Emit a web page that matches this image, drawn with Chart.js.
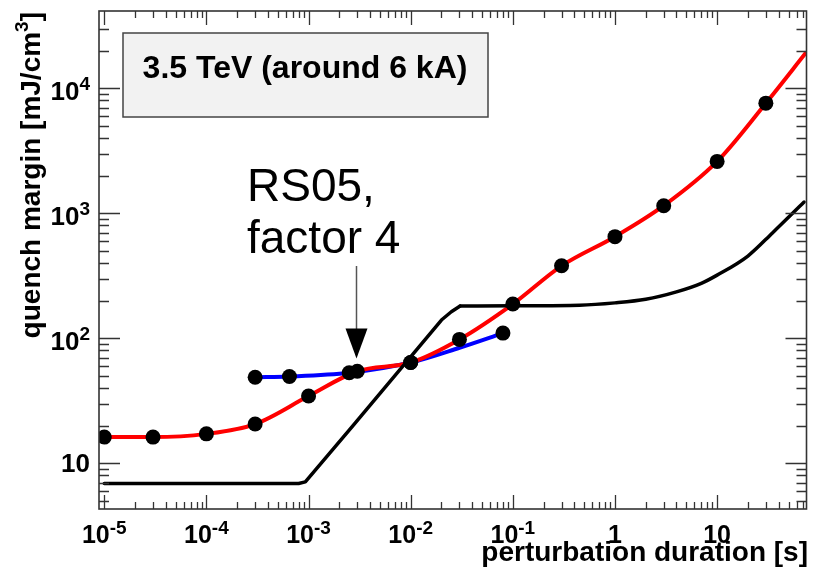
<!DOCTYPE html>
<html>
<head>
<meta charset="utf-8">
<script src="https://cdn.jsdelivr.net/npm/chart.js@4.4.1/dist/chart.umd.min.js"></script>
<style>
  html, body { margin: 0; padding: 0; background: #fff; }
</style>
</head>
<body>
<canvas id="myChart" width="814" height="572"></canvas>
<script>
/*========== DATA ==========*/
// red curve (the last point only carries the line to the frame)
const redX = [1e-5, 3e-5, 1e-4, 3e-4, 1e-3, 3e-3, 1e-2, 3e-2, 0.1, 0.3, 1, 3, 10, 30, 75];
const redY = [16.2, 16.2, 17.2, 20.6, 34.5, 54.5, 64, 98, 188, 380, 650, 1150, 2600, 7600, 19500];
const redMarker = [1, 1, 1, 1, 1, 1, 1, 1, 1, 1, 1, 1, 1, 1, 0];

// blue curve
const blueX = [3e-4, 6.5e-4, 2.5e-3, 1e-2, 3e-2, 8e-2];
const blueY = [48.8, 49.5, 53, 64, 84, 110];
const blueMarker = [1, 1, 1, 1, 0, 1];

// black curve (no markers): straight pieces up to the knee, smooth after it
const blackX = [1e-5, 8e-4, 9.3e-4, 2.66e-3, 2e-2, 2.5e-2, 3.05e-2, 0.1, 0.45, 1, 2, 4, 7, 10, 20, 35, 71];
const blackY = [6.9, 6.9, 7.1, 19.6, 140, 163, 181, 182, 184, 192, 205, 235, 275, 320, 455, 700, 1230];
const blackKnee = 6;

// axes
const xMin = 8.88e-6, xMax = 75;
const yMin = 4.31, yMax = 41500;
const xTickValues = [1e-5, 1e-4, 1e-3, 1e-2, 1e-1, 1, 10];
const xTickLabels = ['10^-5', '10^-4', '10^-3', '10^-2', '10^-1', '1', '10'];
const yTickValues = [10, 100, 1000, 10000];
const yTickLabels = ['10', '10^2', '10^3', '10^4'];

const xTitle = 'perturbation duration [s]';
const yTitle = ['quench margin [mJ/cm', '3', ']'];
const boxText = '3.5 TeV (around 6 kA)';
const noteLines = ['RS05,', 'factor 4'];
const arrowX = 2.9e-3;   // arrow points here
const arrowTipY = 69;

const FONT = '"Liberation Sans", Arial, Helvetica, sans-serif';

function toPoints(xs, ys) {
  return xs.map((x, i) => ({ x: x, y: ys[i] }));
}
function markerPoints(xs, ys, flags) {
  return toPoints(xs, ys).filter((p, i) => flags[i]);
}

// 10^n label: base + superscript
function drawPowerLabel(c, label, x, y, o) {
  const parts = label.split('^');
  c.font = 'bold ' + o.base + 'px ' + FONT;
  const wb = c.measureText(parts[0]).width;
  let ws = 0;
  if (parts[1]) {
    c.font = 'bold ' + o.sup + 'px ' + FONT;
    ws = c.measureText(parts[1]).width;
  }
  const total = wb + ws;
  let left = o.align === 'right' ? x - total : x - total / 2;
  c.textAlign = 'left';
  c.textBaseline = 'alphabetic';
  const by = parts[1] ? y + o.powDy : y + o.plainDy;
  c.font = 'bold ' + o.base + 'px ' + FONT;
  c.fillText(parts[0], left, by);
  if (parts[1]) {
    c.font = 'bold ' + o.sup + 'px ' + FONT;
    c.fillText(parts[1], left + wb, by - o.rise);
  }
}

function logTicks(min, max) {
  const out = [];
  for (let e = Math.floor(Math.log10(min)); e <= Math.ceil(Math.log10(max)); e++) {
    for (let m = 1; m < 10; m++) {
      const v = m * Math.pow(10, e);
      if (v >= min && v <= max) out.push({ v: v, major: m === 1 });
    }
  }
  return out;
}

/*========== FRAME, TICKS, TEXT ==========*/
const rootStyle = {
  id: 'rootStyle',
  afterDraw(chart) {
    const c = chart.ctx;
    const a = chart.chartArea;
    const sx = chart.scales.x, sy = chart.scales.y;
    c.save();

    // ticks, pointing inward on all four sides
    c.strokeStyle = '#333';
    c.lineWidth = 1.3;
    c.beginPath();
    logTicks(xMin, xMax).forEach(t => {
      const px = Math.round(sx.getPixelForValue(t.v)) + 0.5;
      if (px - a.left < 3 || a.right - px < 3) return;
      const len = t.major ? 14 : 7;
      c.moveTo(px, a.bottom); c.lineTo(px, a.bottom - len);
      c.moveTo(px, a.top); c.lineTo(px, a.top + len);
    });
    logTicks(yMin, yMax).forEach(t => {
      const py = Math.round(sy.getPixelForValue(t.v)) + 0.5;
      if (py - a.top < 3 || a.bottom - py < 3) return;
      const len = t.major ? 21 : 10;
      c.moveTo(a.left, py); c.lineTo(a.left + len, py);
      c.moveTo(a.right, py); c.lineTo(a.right - len, py);
    });
    c.stroke();

    // frame
    c.lineWidth = 1.6;
    c.strokeRect(a.left, a.top, a.right - a.left, a.bottom - a.top);

    // tick labels
    c.fillStyle = '#000';
    xTickValues.forEach((v, i) => {
      drawPowerLabel(c, xTickLabels[i], sx.getPixelForValue(v), 543,
        { base: 25, sup: 19, rise: 9, align: 'center', powDy: 0, plainDy: 0 });
    });
    yTickValues.forEach((v, i) => {
      drawPowerLabel(c, yTickLabels[i], 90, sy.getPixelForValue(v),
        { base: 26, sup: 19, rise: 10, align: 'right', powDy: 12, plainDy: 9 });
    });

    // axis titles
    c.font = 'bold 28px ' + FONT;
    c.textAlign = 'right';
    c.fillText(xTitle, 808, 561);

    c.save();
    c.translate(40, 12);
    c.rotate(-Math.PI / 2);
    c.textAlign = 'left';
    c.font = 'bold 28px ' + FONT;
    const w0 = c.measureText(yTitle[0]).width;
    const w2 = c.measureText(yTitle[2]).width;
    c.font = 'bold 19px ' + FONT;
    const w1 = c.measureText(yTitle[1]).width;
    let start = -(w0 + w1 + w2);
    c.font = 'bold 28px ' + FONT;
    c.fillText(yTitle[0], start, 0);
    c.font = 'bold 19px ' + FONT;
    c.fillText(yTitle[1], start + w0, -12);
    c.font = 'bold 28px ' + FONT;
    c.fillText(yTitle[2], start + w0 + w1, 0);
    c.restore();

    // title box
    c.fillStyle = '#f2f2f2';
    c.fillRect(123, 33, 365, 84);
    c.strokeStyle = '#444';
    c.lineWidth = 1.5;
    c.strokeRect(123, 33, 365, 84);
    c.fillStyle = '#000';
    c.font = 'bold 32px ' + FONT;
    c.textAlign = 'center';
    c.fillText(boxText, 305, 78);

    // note + arrow
    c.font = '46px ' + FONT;
    c.textAlign = 'left';
    c.fillText(noteLines[0], 247, 201);
    c.fillText(noteLines[1], 247, 253);

    const ax = Math.round(sx.getPixelForValue(arrowX)) + 0.5;
    const tipY = sy.getPixelForValue(arrowTipY);
    c.strokeStyle = '#555';
    c.lineWidth = 1.5;
    c.beginPath();
    c.moveTo(ax, 266);
    c.lineTo(ax, tipY - 28);
    c.stroke();
    c.fillStyle = '#000';
    c.beginPath();
    c.moveTo(ax - 11, tipY - 30);
    c.lineTo(ax + 11, tipY - 30);
    c.lineTo(ax, tipY);
    c.closePath();
    c.fill();

    c.restore();
  }
};

/*========== CHART ==========*/
const ctx = document.getElementById('myChart').getContext('2d');
const blackPts = toPoints(blackX, blackY);

const chart = new Chart(ctx, {
  type: 'line',
  data: {
    datasets: [
      {
        label: 'markers',
        data: markerPoints(redX, redY, redMarker).concat(markerPoints(blueX, blueY, blueMarker)),
        showLine: false,
        pointRadius: 7.5,
        pointBackgroundColor: '#000',
        pointBorderColor: '#000',
        pointBorderWidth: 0,
        order: 0
      },
      {
        label: 'black (rise)',
        data: blackPts.slice(0, blackKnee + 1),
        borderColor: '#000',
        borderWidth: 3.5,
        borderCapStyle: 'round',
        borderJoinStyle: 'round',
        tension: 0,
        pointRadius: 0,
        order: 1
      },
      {
        label: 'black (plateau)',
        data: blackPts.slice(blackKnee),
        borderColor: '#000',
        borderWidth: 3.5,
        borderCapStyle: 'round',
        cubicInterpolationMode: 'monotone',
        pointRadius: 0,
        order: 1
      },
      {
        label: 'red',
        data: toPoints(redX, redY),
        borderColor: '#ff0000',
        borderWidth: 4,
        cubicInterpolationMode: 'monotone',
        pointRadius: 0,
        order: 2
      },
      {
        label: 'blue',
        data: toPoints(blueX, blueY),
        borderColor: '#0000ff',
        borderWidth: 4,
        cubicInterpolationMode: 'monotone',
        pointRadius: 0,
        order: 3
      }
    ]
  },
  options: {
    responsive: false,
    animation: false,
    devicePixelRatio: 1,
    layout: { padding: { left: 99, right: 4, top: 11, bottom: 63 } },
    plugins: { legend: { display: false }, tooltip: { enabled: false } },
    scales: {
      x: { type: 'logarithmic', min: xMin, max: xMax, display: false },
      y: { type: 'logarithmic', min: yMin, max: yMax, display: false }
    }
  },
  plugins: [rootStyle]
});
</script>
</body>
</html>
